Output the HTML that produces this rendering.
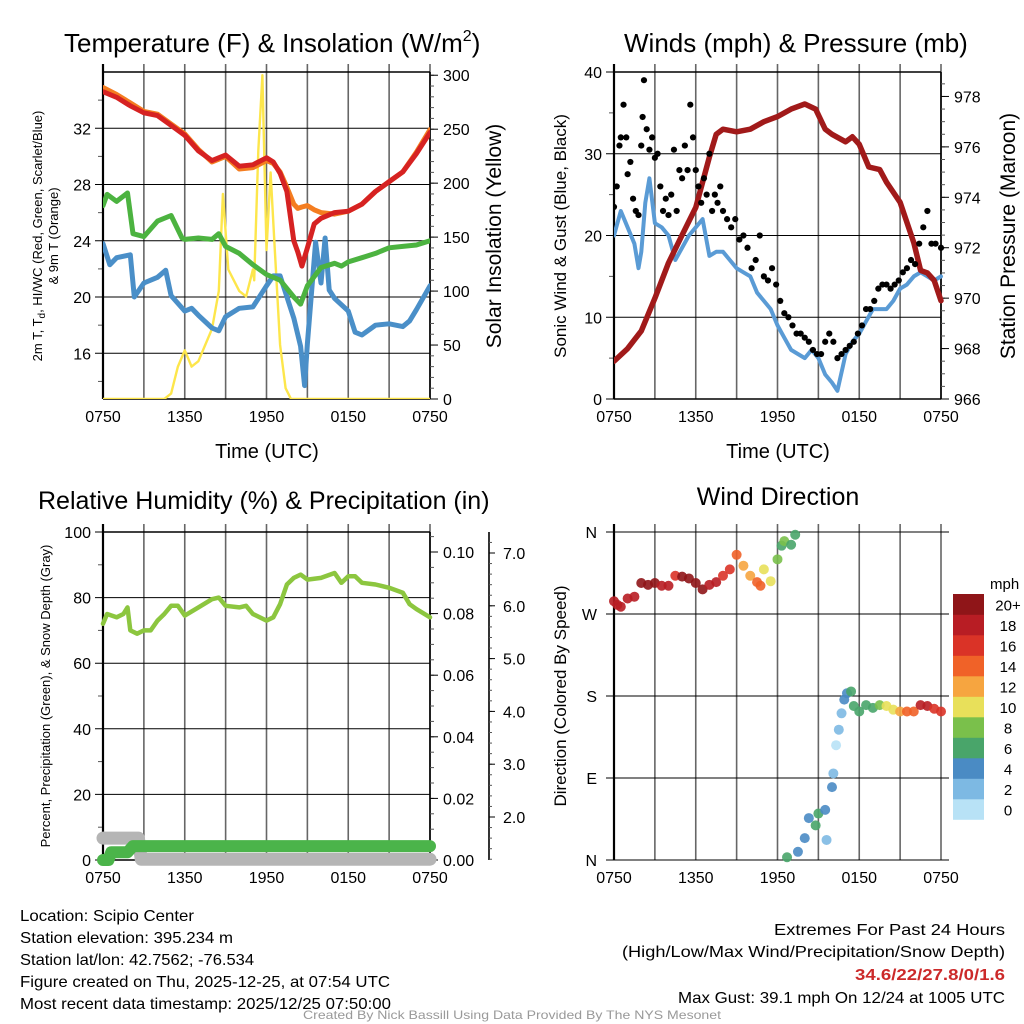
<!DOCTYPE html>
<html><head><meta charset="utf-8"><title>Mesonet Meteogram</title>
<style>
html,body{margin:0;padding:0;background:#fff;}
svg{display:block;font-family:"Liberation Sans",Arial,sans-serif;}
</style></head>
<body>
<svg id="chart" width="1024" height="1024" viewBox="0 0 1024 1024" xmlns="http://www.w3.org/2000/svg">
<rect width="1024" height="1024" fill="#fff"/>
<g id="layer"></g>
</svg>
<script>
// ---------- DATA ----------
const timeTicks = ["0750","1350","1950","0150","0750"];
// Temperature panel (hours since 0750)
const tempHours = [0,1,2,3,4,5,6,7,8,9,10,11,12,12.5,13,13.5,14,14.3,14.6,15,15.5,16,17,18,19,20,21,22,23,24];
const temp2m   = [34.6,34.2,33.6,33.1,32.9,32.2,31.5,30.4,29.7,30.1,29.3,29.4,29.9,29.6,28.8,27.5,24.0,23.2,22.2,23.5,25.2,25.6,26.0,26.1,26.6,27.5,28.2,28.9,30.2,31.7];
const temp9m   = [34.9,34.4,33.8,33.2,33.0,32.3,31.6,30.5,29.6,30.0,29.1,29.2,29.7,29.5,28.9,27.8,26.6,26.3,26.4,26.5,26.2,26.0,25.9,26.1,26.6,27.5,28.2,28.9,30.3,31.9];
const dewHours = [0,0.3,1,1.8,2.2,3,4,5,5.8,6,7,8,8.5,9,10,11,12,13,14,14.5,15,16,17,17.5,18,19,20,21,22,23,24];
const dewPoint = [26.5,27.3,26.8,27.4,24.5,24.3,25.4,25.8,24.2,24.1,24.2,24.1,24.5,23.6,23.1,22.3,21.6,21.2,20.0,19.5,20.8,22.1,22.4,22.2,22.5,22.8,23.1,23.5,23.6,23.7,24.0];
const wcHours = [0,0.5,1,2,2.3,3,4,4.6,5,6,6.5,7,8,8.5,9,10,11,12,12.5,13,14,14.5,14.8,15,15.6,16,16.3,16.6,17,18,18.5,19,20,21,22,22.5,23,24];
const windChill = [23.8,22.3,22.8,23.0,20.0,21.0,21.4,21.9,20.1,19.0,19.2,18.7,17.8,17.6,18.6,19.2,19.3,20.8,21.5,21.5,18.5,16.5,13.7,16.7,23.9,21.0,24.2,20.5,19.9,19.0,17.5,17.3,18.0,18.1,17.9,18.3,19.1,20.8];
const solarHours = [0,4.5,5,5.5,6,6.5,7,7.5,8,8.5,8.8,9.2,9.6,10,10.5,10.8,11,11.1,11.4,11.7,12,12.3,12.6,13,13.4,13.8,24];
const solar      = [0,0,5,30,45,30,35,50,65,100,190,120,110,100,95,110,120,110,230,300,138,210,140,50,10,0,0];
const tempTicks = [16,20,24,28,32];
const solarTicks = [0,50,100,150,200,250,300];
// Winds panel
const windHours = [0,0.5,1,1.5,1.8,2,2.3,2.6,3,3.5,4,4.5,5,5.5,6,6.5,7,7.5,8,8.5,9,9.5,10,10.5,11,11.5,12,12.5,13,13.5,14,14.5,15,15.5,16,16.4,16.8,17,17.5,18,18.5,19,19.5,20,20.5,21,21.5,22,22.5,23,23.5,24];
const windSpeed = [20,23,21,19,16,18,24,27,21.5,21,20,17,18.5,20,21,22,17.5,18,18,17,16,15.5,15,13,12,11,9,7.5,6,5.5,5,6,5,3,2,1,4,5.5,7,8,9.5,11,11,11,12,13.5,14,15,15.5,15,14.5,15];
const gustHours = [0,0.2,0.4,0.5,0.7,0.9,1.0,1.2,1.4,1.6,1.8,2.0,2.1,2.2,2.4,2.6,2.8,3.0,3.2,3.4,3.6,3.8,4.0,4.2,4.4,4.6,4.8,5.0,5.2,5.4,5.6,5.8,6.0,6.2,6.4,6.6,6.8,7.0,7.2,7.4,7.6,7.8,8.0,8.3,8.6,8.9,9.2,9.5,9.8,10.1,10.4,10.7,11.0,11.3,11.6,11.9,12.2,12.5,12.8,13.1,13.4,13.7,14.0,14.3,14.6,14.9,15.2,15.5,15.8,16.1,16.4,16.7,17.0,17.3,17.6,17.9,18.2,18.5,18.8,19.1,19.4,19.7,20.0,20.3,20.6,20.9,21.2,21.5,21.8,22.1,22.4,22.7,23.0,23.3,23.6,24];
const gusts = [23.5,26,31,32,36,32,27.5,29,24.5,23,22.5,31,34.5,39,33,30.5,32,29.5,30,26,23,24.5,22.5,25,30.5,23,28,27,31,28,36,32,28,26,24,27,25,30,23,25,24,26,23,22,21,22,19.5,20,18.5,16,17,20,15,14.5,16,14,12,10.5,10,9,8,8,7.5,7,6,5.5,5.5,7,8,7,5,5.5,6,6.5,7,8,9,11,11,12,13.5,14,14,13.5,14,14.5,15.5,16,17,16.5,19,21,23,19,19,18.5];
const presHours = [0,1,2,3,4,5,6,7,7.5,8,9,10,11,12,13,14,14.8,15.5,16,17,17.5,18,18.7,19.5,20,21,22,22.5,23,23.5,24];
const pressure = [967.5,968.0,968.7,970.0,971.4,972.5,973.6,975.6,976.5,976.7,976.6,976.7,977.0,977.2,977.5,977.7,977.5,976.7,976.5,976.2,976.4,976.1,975.2,975.1,974.6,973.8,972.2,971.1,971.0,970.7,969.9];
const windTicks = [0,10,20,30,40];
const presTicks = [966,968,970,972,974,976,978];
// RH panel
const rhHours = [0,0.3,1,1.5,1.8,2,2.5,3,3.5,4,4.5,5,5.5,6,7,8,8.5,9,10,10.5,11,12,12.5,13,13.5,14,14.5,15,16,17,17.5,18,18.5,19,20,21,22,22.5,23,24];
const relHum = [72,75,74,75,77,70,69,70,70,73,75,77.5,77.5,74.5,77,79.5,80,77.5,77,77.5,75,73,74,78,84,86,87,85.5,86,87.5,84.5,86.5,86.5,84.5,84,83,81.5,78,76.5,74];
const precipHours = [0,0.4,0.6,1.8,2.2,24];
const precip = [0,0,0.0025,0.0025,0.0045,0.0045];
const snowHours = [0,2.6,2.8,24];
const snowDepth = [1.6,1.6,1.2,1.2];
const rhTicks = [0,20,40,60,80,100];
const precipTicks = [0.00,0.02,0.04,0.06,0.08,0.10];
const snowTicks = [2.0,3.0,4.0,5.0,6.0,7.0];
// Wind direction panel
const dirHours = [0,0.25,0.5,1,1.5,2,2.5,3,3.5,4,4.5,5,5.5,6,6.5,7,7.5,8,8.5,9,9.5,10,10.5,10.75,11,11.5,12,12.3,12.5,12.7,13,13.3,13.5,14,14.3,14.8,15,15.5,15.6,16,16.1,16.3,16.5,16.7,16.9,17.1,17.4,17.6,18,18.5,19,19.5,20,20.5,21,21.5,22,22.5,23,23.5,24];
const dirDeg   = [284,280,278,287,289,304,302,304,301,301,312,311,309,304,297,302,305,312,319,335,323,312,305,301,319,306,330,345,350,3,346,357,9,24,46,38,51,55,22,80,95,126,143,161,176,183,185,169,163,170,167,170,169,165,163,163,163,170,169,166,163];
const dirSpeed = [18,19,18,18,18,20,20,20,18,18,17,20,20,20,20,18,18,17,16,14,12,12,14,14,11,10,9,7,8,6,6,6,4,4,4,6,6,4,2,4,2,1,2,3,4,4,6,6,7,7,7,9,10,11,12,14,14,18,18,17,16];
const dirTicks = ["N","E","S","W","N"];
const speedBins = ["0","2","4","6","8","10","12","14","16","18","20+"];
const speedColors = ["#b8e2f6","#7db9e3","#4a8bc4","#49a56a","#7ac04b","#e8e05a","#f6a540","#f06228","#da3327","#b81d24","#8f1518"];

// ---------- DRAW ----------
const NS="http://www.w3.org/2000/svg";
const layer=document.getElementById('layer');
function el(tag,attrs,parent){const e=document.createElementNS(NS,tag);for(const k in attrs)e.setAttribute(k,attrs[k]);(parent||layer).appendChild(e);return e;}
function txt(s,attrs,parent){const e=el('text',attrs,parent);e.textContent=s;return e;}
function lin(d0,d1,r0,r1){return v=>r0+(v-d0)/(d1-d0)*(r1-r0);}
function pathOf(xs,ys,fx,fy){return xs.map((t,i)=>(i?'L':'M')+fx(t).toFixed(1)+','+fy(ys[i]).toFixed(1)).join('');}

function panel(L,T,R,B,name){
  const g=el('g',{});
  
  
  const fx=lin(0,24,L,R);
  for(let h=0;h<=24;h+=3){
    const x=fx(h);
    const v=el('line',{x1:x,x2:x,y1:T-8,y2:B,stroke:'#666','stroke-width':1.6},g);
    
    
  }
  timeTicks.forEach((s,i)=>{
    const t=txt(s,{x:fx(i*6),y:B+23,'font-size':16,'text-anchor':'middle',fill:'#000'},g);
    
    
  });
  return {g,fx};
}
function hgrid(g,ticks,fy,L,R,labelFmt){
  ticks.forEach(v=>{
    const y=fy(v);
    const l=el('line',{x1:L-8,x2:R,y1:y,y2:y,stroke:'#000','stroke-width':1},g);
    
    
    const t=txt(labelFmt(v),{x:L-12,y:y+6,'font-size':16,'text-anchor':'end'},g);
    
    
  });
}
function rightAxis(g,ticks,fy,X,fmt,minorStep,d0,d1,T,B,tickLen){
  el('line',{x1:X,x2:X,y1:T,y2:B,stroke:'#000','stroke-width':1.6},g);
  for(let v=d0;v<=d1+1e-9;v+=minorStep){const y=fy(v);if(y<T-0.5||y>B+0.5)continue;el('line',{x1:X,x2:X+4,y1:y,y2:y,stroke:'#555','stroke-width':1},g);}
  ticks.forEach(v=>{
    const y=fy(v);
    el('line',{x1:X,x2:X+tickLen,y1:y,y2:y,stroke:'#000','stroke-width':1},g);
    const t=txt(fmt(v),{x:X+tickLen+5,y:y+6,'font-size':16},g);
    
    
  });
}
function frame(g,L,T,R,B){
  el('line',{x1:L,x2:L,y1:T-8,y2:B,stroke:'#000','stroke-width':2.2},g);
  el('line',{x1:L,x2:R,y1:T,y2:T,stroke:'#000','stroke-width':1.4},g);
  el('line',{x1:L,x2:R,y1:B,y2:B,stroke:'#000','stroke-width':1.4},g);
}
function series(g,xs,ys,fx,fy,color,w,name){
  const p=el('path',{d:pathOf(xs,ys,fx,fy),fill:'none',stroke:color,'stroke-width':w,'stroke-linejoin':'round','stroke-linecap':'round'},g);
  
  
  return p;
}

// Panel 1: Temperature
(function(){
  const L=103,T=72,R=430,B=399;
  const {g,fx}=panel(L,T,R,B,'temperature-panel');
  const fy=lin(12.75,36,B,T), fs=lin(0,303,B,T);
  hgrid(g,tempTicks,fy,L,R,v=>String(v));
  for(let v=14;v<=34;v+=4){el('line',{x1:L-5,x2:L,y1:fy(v),y2:fy(v),stroke:'#555'},g);}
  rightAxis(g,solarTicks,fs,R,v=>String(v),10,0,300,T,B,8);
  frame(g,L,T,R,B);
  const clip=el('clipPath',{id:'c1'},g);el('rect',{x:L,y:T-10,width:R-L,height:B-T+10},clip);
  const sg=el('g',{'clip-path':'url(#c1)'},g);
  series(sg,solarHours,solar,fx,fs,'#fde64b',2.4,'solar-insolation-line');
  series(sg,wcHours,windChill,fx,fy,'#4a8fc8',5,'wind-chill-line');
  series(sg,dewHours,dewPoint,fx,fy,'#4cb340',5,'dewpoint-line');
  series(sg,tempHours,temp9m,fx,fy,'#f47d20',5,'temp-9m-line');
  series(sg,tempHours,temp2m,fx,fy,'#d62222',5,'temp-2m-line');
  const t=txt('Temperature (F) & Insolation (W/m',{x:64,y:52,'font-size':26},g);
  
  const sup=el('tspan',{dy:-11,'font-size':16},t);sup.textContent='2';
  const cl=el('tspan',{dy:11},t);cl.textContent=')';
  const xt=txt('Time (UTC)',{x:267,y:458,'font-size':20,'text-anchor':'middle'},g);
  
  const yt=el('text',{'font-size':13,'text-anchor':'middle',transform:'translate(42,236) rotate(-90)'},g);
  
  const a=el('tspan',{x:0,y:0},yt);a.textContent='2m T, T';
  const b=el('tspan',{dy:3,'font-size':10},yt);b.textContent='d';
  const c=el('tspan',{dy:-3},yt);c.textContent=', HI/WC (Red, Green, Scarlet/Blue)';
  const d=el('tspan',{x:0,y:16},yt);d.textContent='& 9m T (Orange)';
  const rt=txt('Solar Insolation (Yellow)',{'font-size':21,'text-anchor':'middle',transform:'translate(501,236) rotate(-90)'},g);
  
})();

// Panel 2: Winds
(function(){
  const L=614,T=72,R=941,B=399;
  const {g,fx}=panel(L,T,R,B,'winds-panel');
  const fy=lin(0,40,B,T), fp=lin(966,978.97,B,T);
  hgrid(g,windTicks,fy,L,R,v=>String(v));
  for(let v=5;v<=35;v+=10){el('line',{x1:L-5,x2:L,y1:fy(v),y2:fy(v),stroke:'#555'},g);}
  rightAxis(g,presTicks,fp,R,v=>String(v),0.5,966,979,T,B,8);
  frame(g,L,T,R,B);
  const clip=el('clipPath',{id:'c2'},g);el('rect',{x:L,y:T-4,width:R-L+4,height:B-T+8},clip);
  const sg=el('g',{'clip-path':'url(#c2)'},g);
  series(sg,windHours,windSpeed,fx,fy,'#5a9bd5',4,'wind-speed-line');
  series(sg,presHours,pressure,fx,fp,'#a11a1a',5.5,'pressure-line');
  gustHours.forEach((h,i)=>{
    const c=el('circle',{cx:fx(h),cy:fy(gusts[i]),r:3.1,fill:'#000'},sg);
    
    
  });
  const t=txt('Winds (mph) & Pressure (mb)',{x:624,y:52,'font-size':26},g);
  
  const xt=txt('Time (UTC)',{x:778,y:458,'font-size':20,'text-anchor':'middle'},g);
  
  const yt=txt('Sonic Wind & Gust (Blue, Black)',{'font-size':17,'text-anchor':'middle',transform:'translate(566,236) rotate(-90)'},g);
  
  const rt=txt('Station Pressure (Maroon)',{'font-size':21,'text-anchor':'middle',transform:'translate(1015,236) rotate(-90)'},g);
  
})();

// Panel 3: RH
(function(){
  const L=103,T=532,R=430,B=860;
  const {g,fx}=panel(L,T,R,B,'humidity-panel');
  const fy=lin(0,100,B,T), fpr=lin(0,0.1,B,552), fsn=lin(2,7,817,553);
  hgrid(g,rhTicks,fy,L,R,v=>String(v));
  for(let v=10;v<=90;v+=20){el('line',{x1:L-5,x2:L,y1:fy(v),y2:fy(v),stroke:'#555'},g);}
  rightAxis(g,precipTicks,fpr,R,v=>v.toFixed(2),0.005,0,0.106,T,B,8);
  const X=489;
  el('line',{x1:X,x2:X,y1:T,y2:B,stroke:'#000','stroke-width':1.6},g);
  for(let v=1.2;v<=7.4;v+=0.2){const y=fsn(v);if(y<T||y>B)continue;el('line',{x1:X,x2:X+3,y1:y,y2:y,stroke:'#555'},g);}
  snowTicks.forEach(v=>{const y=fsn(v);el('line',{x1:X,x2:X+6,y1:y,y2:y,stroke:'#000'},g);
    const t=txt(v.toFixed(1),{x:X+14,y:y+6,'font-size':16},g);
    });
  frame(g,L,T,R,B);
  series(g,snowHours,snowDepth,fx,fsn,'#b5b5b5',13,'snow-depth-line');
  series(g,precipHours,precip,fx,fpr,'#4bb44a',12,'precipitation-line');
  series(g,rhHours,relHum,fx,fy,'#8cc63f',4.5,'relative-humidity-line');
  const t=txt('Relative Humidity (%) & Precipitation (in)',{x:38,y:509,'font-size':25},g);
  
  const yt=txt('Percent, Precipitation (Green), & Snow Depth (Gray)',{'font-size':13,'text-anchor':'middle',transform:'translate(50,696) rotate(-90)'},g);
  
})();

// Panel 4: Wind direction
(function(){
  const L=614,T=532,R=941,B=860;
  const {g,fx}=panel(L,T,R,B,'wind-direction-panel');
  const fy=lin(0,360,B,T);
  dirTicks.forEach((s,i)=>{const y=fy(i*90);
    const l=el('line',{x1:L-8,x2:R+8,y1:y,y2:y,stroke:'#000','stroke-width':1},g);
    
    const t=txt(s,{x:L-17,y:y+6,'font-size':16,'text-anchor':'end'},g);
    });
  el('line',{x1:L,x2:L,y1:T-8,y2:B,stroke:'#000','stroke-width':2.2},g);
  dirHours.forEach((h,i)=>{
    const ci=Math.min(10,Math.floor(dirSpeed[i]/2));
    const c=el('circle',{cx:fx(h),cy:fy(dirDeg[i]),r:5,fill:speedColors[ci],opacity:0.9},g);
    
    
  });
  const bx=953,btop=594,bh=20.5;
  const mp=txt('mph',{x:990,y:589,'font-size':15},g);
  
  speedBins.forEach((s,i)=>{
    const y=btop+(10-i)*bh;
    const r=el('rect',{x:bx,y:y,width:31,height:bh+0.3,fill:speedColors[i]},g);
    
    const t=txt(s,{x:1008,y:y+bh/2+6,'font-size':15,'text-anchor':'middle'},g);
    
  });
  const t=txt('Wind Direction',{x:778,y:505,'font-size':25,'text-anchor':'middle'},g);
  
  const yt=txt('Direction (Colored By Speed)',{'font-size':17,'text-anchor':'middle',transform:'translate(566,696) rotate(-90)'},g);
  
})();

// Footer
(function(){
  const g=el('g',{});
  
  
  const left=["Location: Scipio Center","Station elevation: 395.234 m","Station lat/lon: 42.7562; -76.534","Figure created on Thu, 2025-12-25, at 07:54 UTC","Most recent data timestamp: 2025/12/25 07:50:00"];
  const leftW=[174,213,234,370,371];
  left.forEach((s,i)=>{const t=txt(s,{x:20,y:921+i*22,'font-size':16,textLength:leftW[i],lengthAdjust:'spacingAndGlyphs'},g);
    });
  const r1=txt('Extremes For Past 24 Hours',{x:774,y:935,'font-size':16,textLength:231,lengthAdjust:'spacingAndGlyphs'},g);
  
  const r2=txt('(High/Low/Max Wind/Precipitation/Snow Depth)',{x:622,y:957,'font-size':16,textLength:383,lengthAdjust:'spacingAndGlyphs'},g);
  
  const r3=txt('34.6/22/27.8/0/1.6',{x:855,y:980,'font-size':16,'font-weight':'bold',fill:'#cc2a2a',textLength:150,lengthAdjust:'spacingAndGlyphs'},g);
  
  const r4=txt('Max Gust: 39.1 mph On 12/24 at 1005 UTC',{x:678,y:1003,'font-size':16,textLength:327,lengthAdjust:'spacingAndGlyphs'},g);
  
  const cr=txt('Created By Nick Bassill Using Data Provided By The NYS Mesonet',{x:303,y:1019,'font-size':12,fill:'#999',textLength:418,lengthAdjust:'spacingAndGlyphs'},g);
  
})();
</script>
</body></html>
